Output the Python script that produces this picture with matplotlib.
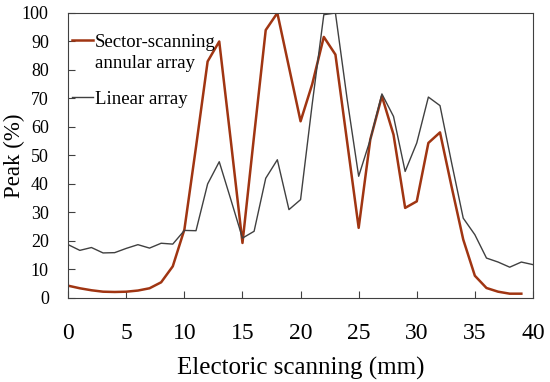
import numpy as np
import matplotlib
matplotlib.use("Agg")
from matplotlib import pyplot as plt

plt.rcParams["font.family"] = ["Liberation Serif", "DejaVu Serif"]

# Peak values (%)
x_sector = list(range(0, 40))
sector = [4.3, 3.4, 2.7, 2.2, 2.1, 2.2, 2.6, 3.4, 5.5, 11.1,
          24, 53, 83, 90, 55, 19.3, 57, 94, 100, 81,
          62, 75, 91.6, 85.4, 55, 24.6, 55.6, 70.8, 57.3, 31.6,
          33.9, 54.4, 58.1, 39, 20.5, 7.8, 3.5, 2.2, 1.5, 1.5]

x_linear = list(range(0, 41))
linear = [18.7, 16.7, 17.7, 15.8, 15.9, 17.4, 18.7, 17.5, 19.2, 18.9,
          23.7, 23.6, 40, 47.8, 34.5, 21, 23.4, 42, 48.5, 31,
          34.5, 68, 99.4, 100, 70, 42.7, 55.6, 71.6, 63.7, 44.4,
          54.4, 70.5, 67.5, 47.4, 28, 22.2, 14, 12.6, 10.8, 12.6, 11.7]

fig = plt.figure(figsize=(5.5, 3.82), dpi=100)
ax = fig.add_axes([0.124, 0.22, 0.845, 0.746])

ax.plot(x_sector, sector, color="#a03512", lw=1.8, label="Sector-scanning\nannular array")
ax.plot(x_linear, linear, color="#404040", lw=1.0, label="Linear array")

ax.set_xlim(0, 40)
ax.set_ylim(0, 100)
ax.set_xticks(np.arange(0, 41, 5))
ax.set_yticks(np.arange(0, 101, 10))
ax.tick_params(axis="x", direction="in", length=5, labelsize=17, pad=18, color="#404040")
ax.tick_params(axis="y", direction="in", length=5, labelsize=13, pad=14, color="#404040")
for s in ax.spines.values():
    s.set_color("#404040")

ax.set_xlabel("Electoric scanning (mm)", fontsize=18, labelpad=9)
ax.set_ylabel("Peak (%)", fontsize=16.5)
ax.yaxis.set_label_coords(-0.092, 0.5)

leg = ax.legend(loc="upper left", frameon=False, fontsize=13.5, handlelength=1.1,
                handletextpad=0.1, borderaxespad=0.0, borderpad=0.0, labelspacing=1.0,
                bbox_to_anchor=(0.009, 0.928))
leg.get_texts()[0].set_linespacing(1.35)
# keep the red handle level with the first text line
red_handle = leg.get_lines()[0]
red_handle.set_ydata(np.asarray(red_handle.get_ydata()) + 9)

fig.savefig("out.png", dpi=100)
plt.close()
